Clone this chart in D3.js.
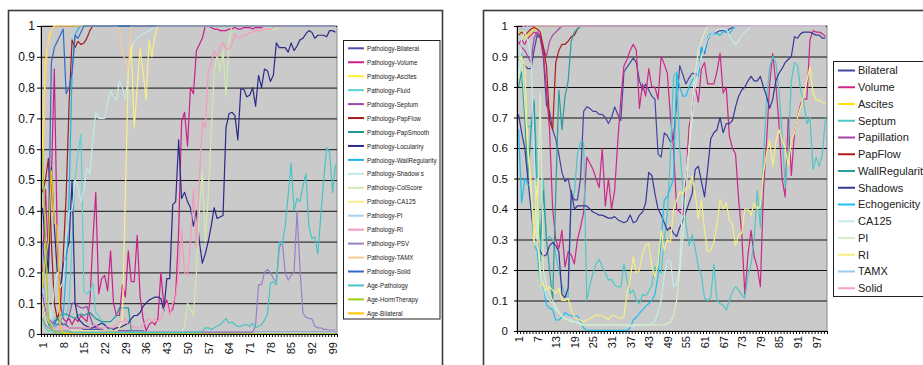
<!DOCTYPE html>
<html><head><meta charset="utf-8">
<script src="https://cdn.jsdelivr.net/npm/d3@7"></script>
<style>body{margin:0;background:#fff}svg{display:block}</style>
</head><body>
<svg id="c" width="923" height="365"></svg>
<script>
const categories = [1,2,3,4,5,6,7,8,9,10,11,12,13,14,15,16,17,18,19,20,21,22,23,24,25,26,27,28,29,30,31,32,33,34,35,36,37,38,39,40,41,42,43,44,45,46,47,48,49,50,51,52,53,54,55,56,57,58,59,60,61,62,63,64,65,66,67,68,69,70,71,72,73,74,75,76,77,78,79,80,81,82,83,84,85,86,87,88,89,90,91,92,93,94,95,96,97,98,99,100];
const leftTickLabels = [1,8,15,22,29,36,43,50,57,64,71,78,85,92,99];
const rightTickLabels = [1,7,13,19,25,31,37,43,49,55,61,67,73,79,85,91,97];
const yTicks = [0,0.1,0.2,0.3,0.4,0.5,0.6,0.7,0.8,0.9,1];

// ---------- LEFT CHART SERIES ----------
const L_Bilateral = [.10,.05,.03,.03,.04,.05,.04,.03,.03,.02,
.02,.02,.02,.02,.015,.015,.015,.015,.015,.015,
.01,.01,.01,.01,.01,.01,.01,.01,.01,.01,
.01,.01,.01,.01,.01,.005,.005,.005,.005,.005,
.005,.005,.005,.005,.005,.005,.005,.005,.005,.005,
.005,.005,.005,.005,.005,.005,.005,.005,.005,.005,
.005,.005,.005,.005,.005,.005,.005,.005,.005,.005,
.005,.005,.005,.005,.005,.005,.005,.005,.005,.005,
.005,.005,.005,.005,.005,.005,.005,.005,.005,.005,
.005,.005,.005,.005,.005,.005,.005,.005,.005,.005];
const L_Volume = [.20,.47,.25,.50,.86,.30,.10,.05,.04,.05,
.03,.05,.04,.06,.05,.04,.10,.30,.46,.13,
.18,.19,.14,.27,.10,.06,.06,.16,.12,.27,
.17,.17,.32,.12,.05,.01,.03,.04,.03,.05,
.20,.09,.11,.07,.08,.13,.33,.69,.72,.61,
.80,.78,.92,.94,.96,1,1,.995,.99,.99,
.985,.985,.985,.99,.99,.995,.99,.99,.995,.995,
.995,.99,.995,.995,.995,1,1,1,1,1,
1,1,1,1,1,1,1,1,1,1,
1,1,1,1,1,1,1,1,1,1];
const L_Ascites = [.60,.89,.95,.99,1,1,1,1,1,1,
1,1,1,1,1,1,1,1,1,1, 1,1,1,1,1,1,1,1,1,1, 1,1,1,1,1,1,1,1,1,1,
1,1,1,1,1,1,1,1,1,1, 1,1,1,1,1,1,1,1,1,1, 1,1,1,1,1,1,1,1,1,1,
1,1,1,1,1,1,1,1,1,1, 1,1,1,1,1,1,1,1,1,1, 1,1,1,1,1,1,1,1,1,1];
const L_Fluid = [.25,.10,.05,.02,.05,.06,.06,.065,.06,.10,
.30,.50,.59,.65,.14,.13,.14,.165,.07,.06,
.04,.03,.02,.01,.01,.005,.005,.005,.005,.005,
.003,.003,.003,.003,.003,.003,.003,.003,.003,.003,
.003,.003,.003,.003,.003,.003,.003,.003,.003,.003,
.003,.003,.003,.003,.003,.003,.003,.003,.003,.003,
.003,.003,.003,.003,.003,.003,.003,.003,.003,.003,
.003,.003,.003,.003,.003,.003,.003,.003,.003,.003,
.003,.003,.003,.003,.003,.003,.003,.003,.003,.003,
.003,.003,.003,.003,.003,.003,.003,.003,.003,.003];
const L_Septum = [.13,.08,.05,.04,.035,.03,.03,.03,.035,.06,
.10,.10,.09,.085,.085,.09,.06,.03,.02,.02,
.015,.01,.01,.01,.01,.01,.01,.01,.01,.01,
.005,.005,.005,.005,.005,.005,.005,.005,.005,.005,
.005,.005,.005,.005,.005,.005,.005,.005,.005,.005,
.005,.005,.005,.005,.005,.005,.005,.005,.005,.005,
.005,.005,.005,.005,.005,.005,.005,.005,.005,.005,
.005,.005,.005,.005,.005,.005,.005,.005,.005,.005,
.005,.005,.005,.005,.005,.005,.005,.005,.005,.005,
.005,.005,.005,.005,.005,.005,.005,.005,.005,.005];
const L_PapFlow = [.46,.50,.57,.30,.10,.05,.08,.25,.45,.75,
.955,.93,.95,.94,.945,.96,.985,1,1,1,
1,1,1,1,1,1,1,1,1,1, 1,1,1,1,1,1,1,1,1,1, 1,1,1,1,1,1,1,1,1,1,
1,1,1,1,1,1,1,1,1,1, 1,1,1,1,1,1,1,1,1,1, 1,1,1,1,1,1,1,1,1,1,
1,1,1,1,1,1,1,1,1,1, 1,1,1,1,1,1,1,1,1,1];
const L_PapSmooth = [.10,.05,.03,.02,.03,.05,.06,.065,.065,.06,
.055,.05,.06,.065,.06,.065,.07,.06,.05,.045,
.04,.04,.04,.04,.05,.06,.085,.085,.085,.085,
.01,.005,.003,.003,.003,.003,.003,.003,.003,.003,
.003,.003,.003,.003,.003,.003,.003,.003,.003,.003,
.003,.003,.003,.003,.003,.003,.003,.003,.003,.003,
.003,.003,.003,.003,.003,.003,.003,.003,.003,.003,
.003,.003,.003,.003,.003,.003,.003,.003,.003,.003,
.003,.003,.003,.003,.003,.003,.003,.003,.003,.003,
.003,.003,.003,.003,.003,.003,.003,.003,.003,.003];
const L_Loculariry = [.41,.30,.20,.54,.35,.20,.15,.22,.26,.30,
.50,.10,.05,.04,.03,.025,.02,.02,.025,.03,
.035,.03,.02,.02,.015,.02,.02,.025,.03,.035,
.05,.06,.06,.07,.09,.10,.11,.115,.12,.12,
.115,.075,.18,.18,.42,.43,.63,.44,.46,.43,
.41,.35,.40,.30,.23,.26,.30,.35,.41,.375,
.38,.385,.67,.715,.72,.71,.63,.795,.795,.77,
.775,.80,.74,.84,.80,.86,.855,.82,.84,.945,
.93,.93,.93,.915,.945,.92,.935,.955,.96,.975,
.985,.98,.96,.97,.97,.97,.965,.985,.985,.98];
const L_WallRegularity = [.20,.10,.05,.03,.02,.03,.04,.06,.20,.45,
.85,.97,.99,1,1,1,1,1,1,1,
1,1,1,1,1,1,1,1,1,1, 1,1,1,1,1,1,1,1,1,1, 1,1,1,1,1,1,1,1,1,1,
1,1,1,1,1,1,1,1,1,1, 1,1,1,1,1,1,1,1,1,1, 1,1,1,1,1,1,1,1,1,1,
1,1,1,1,1,1,1,1,1,1, 1,1,1,1,1,1,1,1,1,1];
const L_Shadows = [.20,.15,.10,.05,.15,.20,.15,.17,.30,.40,
.40,.50,.48,.43,.47,.54,.52,.63,.72,.70,
.70,.70,.75,.79,.77,.76,.82,.80,.76,.85,
.92,.95,.96,.97,.975,.98,.985,.99,.995,1,
1,1,1,1,1,1,1,1,1,1, 1,1,1,1,1,1,1,1,1,1, 1,1,1,1,1,1,1,1,1,1,
1,1,1,1,1,1,1,1,1,1, 1,1,1,1,1,1,1,1,1,1, 1,1,1,1,1,1,1,1,1,1];
const L_ColScore = [.05,.02,.01,.01,.005,.005,.005,.005,.005,.005,
.005,.005,.005,.005,.005,.005,.005,.005,.005,.005,
.005,.005,.005,.005,.005,.005,.005,.005,.005,.005,
.005,.005,.005,.005,.005,.005,.005,.005,.005,.005,
.005,.005,.005,.005,.005,.005,.005,.005,.02,.10,
.08,.06,.20,.40,.53,.30,.45,.65,.85,.91,
.85,.92,.77,.95,1,1,1,1,1,1,
1,1,1,1,1,1,1,.99,.99,.99,
1,1,1,1,1,1,1,1,1,1, 1,1,1,1,1,1,1,1,1,1];
const L_CA125 = [.10,.05,.02,.01,.01,.01,.01,.01,.01,.01,
.01,.01,.01,.01,.01,.01,.01,.01,.01,.01,
.01,.01,.01,.01,.01,.01,.02,.05,.45,.86,
.94,.67,.80,.93,.85,.76,.955,.90,.97,1,
1,1,1,1,1,1,1,1,1,1, 1,1,1,1,1,1,1,1,1,1, 1,1,1,1,1,1,1,1,1,1,
1,1,1,1,1,1,1,1,1,1, 1,1,1,1,1,1,1,1,1,1, 1,1,1,1,1,1,1,1,1,1];
const L_PI = [.15,.10,.05,.03,.02,.02,.015,.015,.01,.01,
.005,.005,.005,.005,.005,.005,.005,.005,.005,.005,
.005,.005,.005,.005,.005,.005,.005,.005,.005,.005,
.005,.005,.005,.005,.005,.005,.005,.005,.005,.005,
.005,.005,.005,.005,.005,.005,.005,.005,.005,.005,
.005,.005,.005,.005,.005,.005,.005,.005,.005,.005,
.005,.005,.005,.005,.005,.005,.005,.005,.005,.005,
.005,.005,.005,.005,.005,.005,.005,.005,.005,.005,
.005,.005,.005,.005,.005,.005,.005,.005,.005,.005,
.005,.005,.005,.005,.005,.005,.005,.005,.005,.005];
const L_RI = [.30,.10,.05,.03,.02,.02,.02,.02,.02,.02,
.02,.02,.02,.02,.02,.02,.02,.025,.03,.02,
.02,.02,.025,.02,.02,.03,.04,.04,.05,.03,
.03,.02,.02,.02,.03,.04,.05,.04,.05,.04,
.05,.08,.10,.06,.10,.12,.20,.34,.20,.19,
.30,.47,.28,.50,.69,.67,.85,.88,.92,.90,
.93,.945,.925,.925,.94,.975,.96,.965,.97,.97,
.98,.98,.985,.985,.985,.99,.99,.99,.995,1,
1,1,1,1,1,1,1,1,1,1, 1,1,1,1,1,1,1,1,1,1];
const L_PSV = [.05,.03,.02,.015,.01,.01,.01,.01,.01,.01,
.005,.005,.005,.005,.005,.005,.005,.005,.005,.005,
.005,.005,.005,.005,.005,.005,.005,.005,.005,.005,
.005,.005,.005,.005,.005,.005,.005,.005,.005,.005,
.005,.005,.005,.005,.005,.005,.005,.005,.005,.005,
.005,.005,.005,.005,.005,.005,.005,.005,.005,.005,
.005,.005,.005,.005,.005,.005,.005,.005,.005,.005,
.005,.005,.03,.16,.16,.20,.21,.20,.18,.17,
.28,.30,.20,.175,.19,.20,.40,.21,.067,.055,
.05,.05,.025,.02,.02,.015,.015,.013,.013,.013];
const L_TAMX = [.50,.82,.97,.99,1,1,1,1,1,1,
1,1,1,1,1,1,1,1,1,1,
1,1,1,1,1,1,.99,.91,.89,.86,
1,1,1,1,1,1,1,1,1,1, 1,1,1,1,1,1,1,1,1,1, 1,1,1,1,1,1,1,1,1,1,
1,1,1,1,1,1,1,1,1,1, 1,1,1,1,1,1,1,1,1,1, 1,1,1,1,1,1,1,1,1,1, 1,1,1,1,1,1,1,1,1,1];
const L_Solid = [.30,.20,.30,.88,.93,.95,.97,.99,.78,.80,
.85,.97,.96,.98,1,1,1,1,1,1,
1,1,1,1,1,1,1,1,1,1, 1,1,1,1,1,1,1,1,1,1, 1,1,1,1,1,1,1,1,1,1,
1,1,1,1,1,1,1,1,1,1, 1,1,1,1,1,1,1,1,1,1, 1,1,1,1,1,1,1,1,1,1,
1,1,1,1,1,1,1,1,1,1, 1,1,1,1,1,1,1,1,1,1];
const L_AgePathology = [.05,.02,.01,.01,.005,.005,.005,.005,.005,.005,
.005,.005,.005,.005,.005,.005,.005,.005,.005,.005,
.005,.005,.005,.005,.005,.005,.005,.005,.005,.005,
.005,.005,.005,.005,.005,.005,.005,.005,.005,.005,
.005,.005,.005,.005,.005,.005,.005,.005,.005,.005,
.005,.005,.005,.005,.01,.02,.02,.015,.02,.025,
.03,.04,.05,.035,.04,.03,.025,.025,.03,.03,
.025,.035,.02,.025,.03,.045,.065,.165,.17,.16,
.30,.29,.35,.45,.555,.40,.44,.43,.48,.52,
.35,.31,.315,.26,.38,.50,.605,.59,.46,.55];
const L_AgeHormTherapy = [.60,.30,.05,.02,.01,.005,.003,.002,.002,.002,
0,0,0,0,0,0,0,0,0,0, 0,0,0,0,0,0,0,0,0,0, 0,0,0,0,0,0,0,0,0,0,
0,0,0,0,0,0,0,0,0,0, 0,0,0,0,0,0,0,0,0,0, 0,0,0,0,0,0,0,0,0,0,
0,0,0,0,0,0,0,0,0,0, 0,0,0,0,0,0,0,0,0,0, 0,0,0,0,0,0,0,0,0,0];
const L_AgeBilateral = [.15,.25,.30,.53,.36,.35,.02,.005,.003,.002,
0,0,0,0,0,0,0,0,0,0, 0,0,0,0,0,0,0,0,0,0, 0,0,0,0,0,0,0,0,0,0,
0,0,0,0,0,0,0,0,0,0, 0,0,0,0,0,0,0,0,0,0, 0,0,0,0,0,0,0,0,0,0,
0,0,0,0,0,0,0,0,0,0, 0,0,0,0,0,0,0,0,0,0, 0,0,0,0,0,0,0,0,0,0];

// ---------- RIGHT CHART SERIES ----------
const R_Bilateral = [.89,.88,.87,.86,.86,.92,.97,.96,.90,.74,
.72,.66,.63,.58,.52,.49,.50,.45,.43,.43,
.50,.72,.735,.73,.72,.72,.71,.71,.70,.68,
.70,.735,.71,.69,.85,.865,.88,.895,.88,.82,
.79,.81,.79,.77,.76,.58,.57,.65,.64,.62,
.63,.75,.87,.84,.81,.83,.845,.843,.84,.93,
.91,.955,.97,.98,.98,.985,.985,.98,.99,.995,
1,1,1,1,1,1,1,1,1,1, 1,1,1,1,1,1,1,1,1,1, 1,1,1,1,1,1,1,1,1,1];
const R_Volume = [.94,.955,.94,.96,.97,.98,.975,.965,.91,.79,
.66,.40,.30,.27,.33,.21,.26,.25,.22,.30,
.34,.39,.57,.55,.53,.50,.47,.60,.41,.50,
.40,.46,.62,.76,.87,.89,.92,.94,.92,.73,
.81,.77,.86,.80,.80,.76,.90,.875,.845,.70,
.60,.40,.39,.38,.50,.67,.72,.80,.75,.86,
.88,.81,.81,.81,.85,.91,.78,.80,.64,.60,
.58,.43,.32,.12,.25,.33,.245,.21,.145,.46,
.62,.81,.91,.81,.68,.50,.44,.70,.51,.65,
.70,.745,.76,.76,.955,.985,.98,.98,.975,.965];
const R_Ascites = [.97,.985,.96,.97,.975,.99,1,1,1,1,
1,1,1,1,1,1,1,1,1,1, 1,1,1,1,1,1,1,1,1,1, 1,1,1,1,1,1,1,1,1,1,
1,1,1,1,1,1,1,1,1,1, 1,1,1,1,1,1,1,1,1,1, 1,1,1,1,1,1,1,1,1,1,
1,1,1,1,1,1,1,1,1,1, 1,1,1,1,1,1,1,1,1,1, 1,1,1,1,1,1,1,1,1,1];
const R_Septum = [.87,.91,.76,.67,.67,.76,.54,.23,.50,.30,
.31,.30,.25,.20,.15,.12,.11,.43,.45,.58,
.62,.62,.10,.15,.19,.22,.235,.21,.19,.167,
.17,.15,.145,.145,.22,.167,.123,.134,.10,.09,
.12,.115,.13,.15,.21,.20,.19,.30,.385,.58,
.835,.85,.60,.47,.35,.28,.315,.27,.21,.18,
.107,.10,.11,.22,.10,.09,.085,.069,.10,.13,
.145,.134,.118,.107,.18,.22,.30,.46,.34,.57,
.757,.867,.90,.88,.79,.65,.47,.60,.82,.88,
.87,.79,.75,.68,.70,.53,.57,.54,.58,.70];
const R_Papillation = [.95,.93,.92,.90,.88,.96,.98,.97,.93,.90,
.95,.97,.98,.99,1,1,1,1,1,1,
1,1,1,1,1,1,1,1,1,1, 1,1,1,1,1,1,1,1,1,1, 1,1,1,1,1,1,1,1,1,1,
1,1,1,1,1,1,1,1,1,1, 1,1,1,1,1,1,1,1,1,1, 1,1,1,1,1,1,1,1,1,1,
1,1,1,1,1,1,1,1,1,1, 1,1,1,1,1,1,1,1,1,1];
const R_PapFlow = [.97,.98,.97,.98,.99,.995,.99,.98,.93,.87,
.69,.66,.88,.92,.94,.94,.95,.965,.97,.99,
1,1,1,1,1,1,1,1,1,1, 1,1,1,1,1,1,1,1,1,1, 1,1,1,1,1,1,1,1,1,1,
1,1,1,1,1,1,1,1,1,1, 1,1,1,1,1,1,1,1,1,1, 1,1,1,1,1,1,1,1,1,1,
1,1,1,1,1,1,1,1,1,1, 1,1,1,1,1,1,1,1,1,1];
const R_WallRegularity = [.80,.85,.70,.50,.66,.75,.40,.30,.46,.30,
.20,.10,.45,.79,.66,.77,.82,.95,.98,.99,
1,1,1,1,1,1,1,1,1,1, 1,1,1,1,1,1,1,1,1,1, 1,1,1,1,1,1,1,1,1,1,
1,1,1,1,1,1,1,1,1,1, 1,1,1,1,1,1,1,1,1,1, 1,1,1,1,1,1,1,1,1,1,
1,1,1,1,1,1,1,1,1,1, 1,1,1,1,1,1,1,1,1,1];
const R_Shadows = [.71,.65,.60,.50,.40,.30,.30,.26,.245,.25,
.28,.29,.28,.26,.12,.11,.14,.46,.40,.41,
.41,.41,.41,.40,.39,.385,.38,.38,.375,.37,
.37,.375,.365,.36,.355,.36,.38,.355,.36,.38,
.39,.42,.52,.51,.45,.40,.38,.355,.33,.34,
.32,.31,.34,.36,.39,.42,.45,.53,.54,.49,
.44,.53,.63,.65,.66,.70,.65,.68,.68,.69,
.735,.77,.79,.80,.82,.835,.82,.82,.835,.80,
.77,.73,.76,.82,.845,.86,.88,.89,.90,.965,
.96,.975,.98,.98,.98,.975,.97,.97,.96,.96];
const R_Echogenicity = [.66,.42,.50,.48,.47,.28,.265,.145,.15,.085,
.075,.07,.036,.036,.045,.06,.053,.05,.047,.05,
.03,.01,.003,.002,.002,.002,.002,.002,.002,.002,
.002,.002,.002,.002,.002,.002,.01,.036,.045,.058,
.07,.08,.09,.10,.12,.18,.30,.43,.44,.47,
.50,.845,.80,.77,.77,.80,.82,.835,.835,.93,
.915,.965,.975,.975,.975,.97,.98,.985,.975,.99,
1,1,1,1,1,1,1,1,1,1, 1,1,1,1,1,1,1,1,1,1, 1,1,1,1,1,1,1,1,1,1];
const R_CA125 = [.84,.96,.98,.95,.90,.60,.30,.20,.15,.11,
.10,.09,.07,.063,.05,.04,.04,.035,.03,.03,
.025,.02,.02,.02,.02,.02,.02,.02,.02,.02,
.02,.02,.02,.02,.02,.015,.015,.015,.02,.02,
.02,.02,.02,.025,.03,.063,.10,.18,.23,.23,
.145,.155,.21,.45,.52,.60,.69,.80,.86,.90,
.93,.96,.97,.98,.985,.99,.99,.99,.97,.95,
.94,.95,.97,.98,.99,1,1,1,1,1,
1,1,1,1,1,1,1,1,1,1, 1,1,1,1,1,1,1,1,1,1];
const R_PI = [.83,.90,.75,.60,.45,.35,.30,.78,.20,.15,
.12,.10,.08,.06,.05,.04,.035,.03,.03,.025,
.02,.02,.02,.02,.02,.02,.02,.02,.02,.02,
.02,.02,.02,.02,.02,.02,.02,.02,.02,.02,
.02,.02,.02,.02,.02,.02,.02,.02,.025,.03,
.05,.10,.20,.30,.45,.60,.75,.85,.92,.95,
.98,1,1,1,1,1,1,1,1,1,
1,1,1,1,1,1,1,1,1,1, 1,1,1,1,1,1,1,1,1,1, 1,1,1,1,1,1,1,1,1,1];
const R_RI = [.90,.89,.87,.60,.50,.28,.50,.145,.156,.134,
.145,.134,.123,.14,.10,.10,.107,.07,.047,.04,
.035,.03,.035,.04,.047,.052,.05,.05,.045,.036,
.052,.05,.045,.04,.047,.123,.167,.243,.19,.20,
.255,.28,.287,.21,.178,.222,.33,.265,.30,.29,
.40,.43,.457,.45,.47,.47,.51,.45,.37,.43,
.33,.26,.265,.29,.35,.43,.40,.42,.364,.35,
.28,.315,.32,.40,.40,.38,.42,.40,.41,.52,
.58,.626,.54,.62,.66,.626,.60,.54,.626,.65,
.70,.735,.77,.82,.867,.78,.757,.757,.75,.746];
const R_TAMX = [.98,.99,.99,1,1,1,1,1,1,1,
1,1,1,1,1,1,1,1,1,1, 1,1,1,1,1,1,1,1,1,1, 1,1,1,1,1,1,1,1,1,1,
1,1,1,1,1,1,1,1,1,1, 1,1,1,1,1,1,1,1,1,1, 1,1,1,1,1,1,1,1,1,1,
1,1,1,1,1,1,1,1,1,1, 1,1,1,1,1,1,1,1,1,1, 1,1,1,1,1,1,1,1,1,1];
const R_Solid = [.99,.995,1,1,1,1,1,1,1,1,
1,1,1,1,1,1,1,1,1,1, 1,1,1,1,1,1,1,1,1,1, 1,1,1,1,1,1,1,1,1,1,
1,1,1,1,1,1,1,1,1,1, 1,1,1,1,1,1,1,1,1,1, 1,1,1,1,1,1,1,1,1,1,
1,1,1,1,1,1,1,1,1,1, 1,1,1,1,1,1,1,1,1,1, 1,1,1,1,1,1,1,1,1,1];

const leftNames = ["Pathology-Bilateral","Pathology-Volume","Pathology-Ascites","Pathology-Fluid","Pathology-Septum","Pathology-PapFlow","Pathology-PapSmooth","Pathology-Loculariry","Pathology-WallRegularity","Pathology-Shadow s","Pathology-ColScore","Pathology-CA125","Pathology-PI","Pathology-RI","Pathology-PSV","Pathology-TAMX","Pathology-Solid","Age-Pathology","Age-HormTherapy","Age-Bilateral"];
const leftValues = [L_Bilateral,L_Volume,L_Ascites,L_Fluid,L_Septum,L_PapFlow,L_PapSmooth,L_Loculariry,L_WallRegularity,L_Shadows,L_ColScore,L_CA125,L_PI,L_RI,L_PSV,L_TAMX,L_Solid,L_AgePathology,L_AgeHormTherapy,L_AgeBilateral];
const leftColors = ["#4f4fa5","#cc1f8a","#ffee33","#5fd0d0","#9848a8","#a31c1c","#249898","#2a2a8a","#1ab4ea","#c2e8e8","#cfe9b0","#f8ee88","#a8d0f0","#f49abd","#9a80c8","#f8c898","#3568c8","#48c4c4","#9ccc1c","#ffc400"];

const rightNames = ["Bilateral","Volume","Ascites","Septum","Papillation","PapFlow","WallRegularity","Shadows","Echogenicity","CA125","PI","RI","TAMX","Solid"];
const rightValues = [R_Bilateral,R_Volume,R_Ascites,R_Septum,R_Papillation,R_PapFlow,R_WallRegularity,R_Shadows,R_Echogenicity,R_CA125,R_PI,R_RI,R_TAMX,R_Solid];
const rightColors = ["#4646a0","#cc2888","#ffe000","#50c6c6","#a844a4","#b01c1c","#2c9c9c","#38389a","#1cbff0","#c6eaea","#d6eec6","#f6ee80","#98ccf0","#f6a0c6"];

const FONT = "'Liberation Sans', Arial, Helvetica, sans-serif";
const svg = d3.select("#c");

// outer chart frames
svg.append("rect").attr("x",8.5).attr("y",10.5).attr("width",434).attr("height",380)
  .attr("fill","#fff").attr("stroke","#3a3a3a").attr("stroke-width",1.6);
svg.append("rect").attr("x",483.5).attr("y",10.5).attr("width",480).attr("height",380)
  .attr("fill","#fff").attr("stroke","#3a3a3a").attr("stroke-width",1.6);

function drawPanel(cfg) {
  const g = svg.append("g");
  const x = d3.scalePoint().domain(categories).range([cfg.x0, cfg.x1]).padding(0.5);
  const xb = d3.scaleLinear().domain([0, categories.length]).range([cfg.x0, cfg.x1]);
  const y = d3.scaleLinear().domain([0, 1]).range([cfg.yB, cfg.yT]);

  g.append("rect").attr("x", cfg.x0).attr("y", cfg.yT).attr("width", cfg.x1 - cfg.x0)
    .attr("height", cfg.yB - cfg.yT).attr("fill", "#cacaca").attr("stroke", "#8a8a8a");

  // gridlines
  const grid = g.append("g").attr("transform", `translate(${cfg.x0},0)`)
    .call(d3.axisLeft(y).tickValues(yTicks.slice(1)).tickSize(-(cfg.x1 - cfg.x0)).tickFormat(""));
  grid.select(".domain").remove();
  grid.selectAll("line").attr("stroke", "#111").attr("stroke-width", 1);

  // series
  const line = d3.line().x((d, i) => x(categories[i])).y(d => y(d));
  cfg.values.forEach((vals, k) => {
    g.append("path").datum(vals).attr("d", line).attr("fill", "none")
      .attr("stroke", cfg.colors[k]).attr("stroke-width", 1.2)
      .attr("stroke-linejoin", "round");
  });

  // y axis
  const ya = g.append("g").attr("transform", `translate(${cfg.x0},0)`)
    .call(d3.axisLeft(y).tickValues(yTicks).tickSize(cfg.yTick).tickPadding(cfg.yPad)
      .tickFormat(d => d === 0 ? "0" : d === 1 ? "1" : d3.format(".1f")(d)));
  ya.select(".domain").attr("stroke", "#000");
  ya.selectAll("line").attr("stroke", "#000");
  ya.selectAll("text").attr("font-family", FONT).attr("font-size", cfg.yFont).attr("fill", "#111");

  // x axis ticks (between categories)
  const xa = g.append("g").attr("transform", `translate(0,${cfg.yB})`)
    .call(d3.axisBottom(xb).tickValues(d3.range(0, categories.length + 1)).tickSize(3).tickFormat(""));
  xa.select(".domain").attr("stroke", "#000");
  xa.selectAll("line").attr("stroke", "#000");

  // x labels
  const xl = g.append("g").attr("transform", `translate(0,${cfg.yB})`)
    .call(d3.axisBottom(x).tickValues(cfg.labels).tickSize(0));
  xl.select(".domain").remove();
  xl.selectAll("text").attr("font-family", FONT).attr("font-size", cfg.xFont).attr("fill", "#111")
    .attr("transform", "rotate(-90)").attr("text-anchor", "end")
    .attr("x", -cfg.xOff).attr("y", 0).attr("dy", "0.35em");

  // legend
  const lg = svg.append("g");
  lg.append("rect").attr("x", cfg.lgX).attr("y", cfg.lgY).attr("width", cfg.lgW).attr("height", cfg.lgH)
    .attr("fill", "#fff").attr("stroke", "#222").attr("stroke-width", 1);
  cfg.names.forEach((n, k) => {
    const yy = cfg.lgY0 + k * cfg.lgStep;
    lg.append("line").attr("x1", cfg.lgL0).attr("x2", cfg.lgL1).attr("y1", yy).attr("y2", yy)
      .attr("stroke", cfg.colors[k]).attr("stroke-width", 2);
    lg.append("g").attr("transform", `translate(${cfg.lgT},${yy}) scale(${cfg.lgScale},1)`)
      .append("text").attr("x", 0).attr("y", 0).attr("dy", "0.35em")
      .attr("font-family", FONT).attr("font-size", cfg.lgFont).attr("fill", "#222").text(n);
  });
}

drawPanel({
  x0: 41, x1: 337, yT: 26, yB: 334,
  values: leftValues, colors: leftColors, names: leftNames, labels: leftTickLabels,
  yTick: 4, yPad: 2, yFont: 12, xFont: 11, xOff: 8,
  lgX: 343.5, lgY: 40.5, lgW: 96.5, lgH: 278.5, lgY0: 48.3, lgStep: 13.95,
  lgL0: 348, lgL1: 364, lgT: 367, lgFont: 7.5, lgScale: 0.83
});
drawPanel({
  x0: 517, x1: 827, yT: 26, yB: 331,
  values: rightValues, colors: rightColors, names: rightNames, labels: rightTickLabels,
  yTick: 3, yPad: 6, yFont: 11.5, xFont: 11, xOff: 5,
  lgX: 833.5, lgY: 61.5, lgW: 110, lgH: 235, lgY0: 70.5, lgStep: 16.75,
  lgL0: 838, lgL1: 855, lgT: 858, lgFont: 11, lgScale: 1
});
</script>
</body></html>
